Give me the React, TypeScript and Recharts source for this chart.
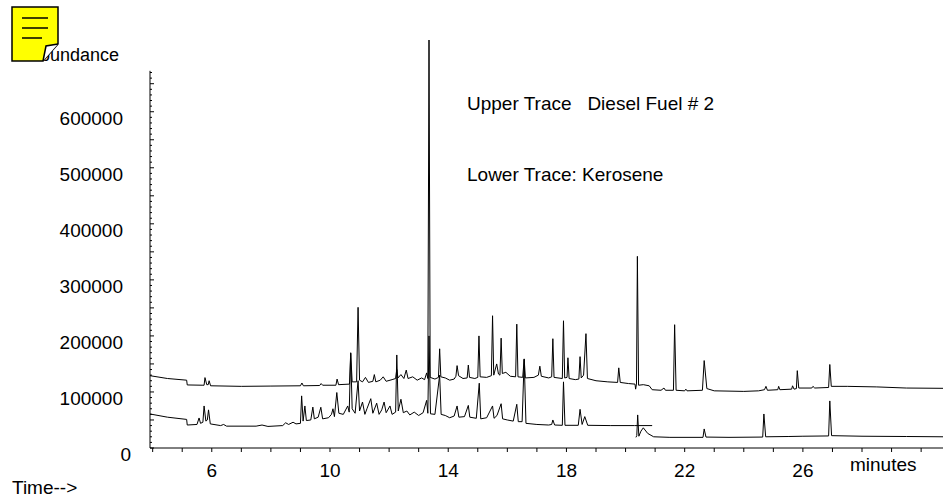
import { LineChart, Line, XAxis, YAxis, ReferenceLine } from 'recharts';

// retention time (min) / abundance pairs
const upperTrace: [number, number][] = [
  [3.91, 129000], [4.5, 124000], [5.15, 121000], [5.17, 112500], [5.7, 112000],
  [5.74, 112000], [5.77, 125600], [5.83, 113000], [5.88, 113000], [5.91, 120000], [5.96, 111000],
  [7.0, 110000], [8.0, 110500], [9.0, 111000], [9.05, 116000], [9.1, 111000],
  [9.65, 111500], [9.7, 115000], [9.75, 112000], [10.2, 112000], [10.24, 123000], [10.29, 113000],
  [10.66, 114000], [10.7, 170000], [10.75, 118000], [10.9, 118000], [10.95, 251000], [11.0, 121000],
  [11.1, 118000], [11.2, 126000], [11.3, 117000], [11.45, 119000], [11.5, 131000], [11.55, 118000],
  [11.7, 121000], [11.8, 127000], [11.9, 119000], [12.1, 122000], [12.22, 124000], [12.26, 140000],
  [12.3, 125000], [12.4, 131000], [12.5, 124000], [12.58, 139000], [12.64, 124000], [12.8, 127000],
  [12.95, 121000], [13.1, 125000], [13.2, 122000], [13.27, 134000], [13.31, 124000], [13.35, 728000],
  [13.39, 126000], [13.55, 123000], [13.67, 126000], [13.71, 177000], [13.75, 127000], [13.9, 125000],
  [14.05, 121000], [14.2, 123000], [14.26, 128000], [14.3, 147000], [14.35, 129000], [14.5, 124000],
  [14.64, 125000], [14.68, 148000], [14.72, 126000], [14.9, 124000], [15.0, 126000], [15.04, 200000],
  [15.08, 127000], [15.3, 126000], [15.46, 129000], [15.5, 236000], [15.54, 130000], [15.64, 150000],
  [15.7, 132000], [15.75, 130000], [15.79, 196000], [15.83, 133000], [15.95, 135000], [16.1, 128000],
  [16.28, 127000], [16.32, 221000], [16.36, 127000], [16.52, 126000], [16.57, 159000], [16.61, 125000],
  [16.9, 126000], [17.05, 130000], [17.1, 146000], [17.15, 128000], [17.4, 125000], [17.5, 127000],
  [17.54, 195000], [17.58, 126000], [17.86, 124000], [17.9, 227000], [17.94, 125000], [18.02, 126000],
  [18.05, 161000], [18.09, 124000], [18.3, 122000], [18.42, 123000], [18.46, 163000], [18.5, 125000],
  [18.58, 130000], [18.66, 204000], [18.71, 124000], [19.0, 120000], [19.4, 118000], [19.73, 117000],
  [19.77, 143000], [19.82, 117000], [20.1, 115000], [20.32, 114000], [20.34, 105000], [20.37, 114000],
  [20.4, 342000], [20.44, 112000], [20.6, 113000], [20.8, 111000], [20.9, 104000], [21.2, 103000],
  [21.3, 107000], [21.35, 103000], [21.62, 103000], [21.66, 220000], [21.71, 103000], [22.0, 102000],
  [22.04, 105000], [22.08, 102000], [22.6, 103000], [22.66, 156000], [22.75, 106000], [23.0, 102000],
  [24.0, 101000], [24.5, 102000], [24.7, 104000], [24.75, 110000], [24.8, 103000], [25.15, 104000],
  [25.18, 110000], [25.22, 104000], [25.62, 105000], [25.65, 111000], [25.7, 105000], [25.78, 106000],
  [25.81, 138000], [25.86, 107000], [26.3, 107000], [26.34, 110000], [26.4, 107000], [26.87, 108000],
  [26.91, 149000], [26.96, 110000], [27.5, 110000], [28.5, 109000], [29.5, 107000], [30.74, 106500],
];

const lowerTraceA: [number, number][] = [
  [3.91, 60700], [4.5, 55000], [5.15, 51000], [5.17, 41000], [5.5, 42000], [5.57, 53600],
  [5.62, 44000], [5.7, 46000], [5.74, 75000], [5.8, 48000], [5.85, 50000], [5.89, 68000],
  [5.95, 43000], [6.3, 40000], [6.4, 42000], [6.5, 39000], [7.5, 39000], [7.7, 41000],
  [7.9, 38500], [8.4, 40000], [8.5, 45000], [8.6, 42000], [8.75, 46000], [8.85, 43000],
  [9.0, 44000], [9.04, 93000], [9.09, 48000], [9.15, 75000], [9.2, 49000], [9.35, 50000],
  [9.42, 73000], [9.47, 52000], [9.6, 55000], [9.69, 72700], [9.75, 52000], [9.95, 54000],
  [10.05, 60000], [10.1, 70000], [10.15, 56000], [10.23, 99000], [10.3, 62000], [10.45, 60000],
  [10.6, 75000], [10.65, 64000], [10.7, 169000], [10.75, 70000], [10.85, 62000], [10.95, 120000],
  [11.0, 66000], [11.1, 82000], [11.18, 60000], [11.25, 70000], [11.38, 88000], [11.45, 62000],
  [11.58, 80000], [11.66, 60000], [11.75, 68000], [11.83, 82000], [11.9, 63000], [12.03, 75000],
  [12.1, 60000], [12.22, 64000], [12.26, 166000], [12.31, 66000], [12.4, 87000], [12.48, 63000],
  [12.6, 66000], [12.7, 59000], [12.85, 64000], [13.0, 58000], [13.15, 63000], [13.27, 85000],
  [13.31, 62000], [13.35, 200000], [13.4, 61000], [13.55, 60000], [13.71, 130000], [13.76, 60000],
  [13.9, 58000], [14.05, 54000], [14.2, 57000], [14.3, 75000], [14.36, 55000], [14.55, 56000],
  [14.68, 76000], [14.73, 55000], [14.95, 53000], [15.05, 115600], [15.1, 52000], [15.3, 54000],
  [15.5, 75000], [15.55, 53000], [15.65, 58000], [15.79, 79000], [15.84, 52000], [16.0, 50000],
  [16.2, 48000], [16.32, 78000], [16.37, 47000], [16.5, 47000], [16.57, 158000], [16.63, 44000],
  [17.0, 42000], [17.4, 41000], [17.5, 42000], [17.54, 50000], [17.6, 41000], [17.86, 40500],
  [17.9, 118000], [17.95, 40500], [18.4, 40500], [18.46, 69000], [18.53, 42000], [18.62, 56000],
  [18.72, 40500], [19.5, 40000], [20.3, 40000], [20.9, 40000],
];

const lowerTraceB: [number, number][] = [
  [20.35, 19000], [20.38, 22000], [20.41, 59000], [20.45, 21000], [20.52, 30000],
  [20.6, 36000], [20.75, 26000], [20.95, 20000], [21.5, 19000], [22.62, 19000], [22.66, 34000],
  [22.72, 19500], [23.5, 19000], [24.64, 19500], [24.68, 60700], [24.74, 20000], [25.5, 20500],
  [26.0, 21000], [26.87, 21500], [26.91, 84000], [26.97, 22000], [28.0, 21000], [29.5, 20500],
  [30.74, 20000],
];

const xTicks = [4, 5, 6, 7, 8, 9, 10, 11, 12, 13, 14, 15, 16, 17, 18, 19, 20, 21, 22, 23, 24, 25, 26, 27, 28, 29, 30];
const xLabels = [6, 10, 14, 18, 22, 26];
const yTicks = Array.from({ length: 68 }, (_, i) => i * 10000);

const toRows = (pts: [number, number][]) => pts.map(([t, v]) => ({ t, v }));

const FONT = '"Liberation Sans", Arial, sans-serif';

function XTick({ x, y, payload }: any) {
  const show = xLabels.includes(payload.value);
  return (
    <g>
      <line x1={x} x2={x} y1={y} y2={y + 4} stroke="#000" />
      {show && (
        <text x={x} y={y + 29} textAnchor="middle" fontSize={19} fontFamily={FONT} fill="#000">
          {payload.value}
        </text>
      )}
    </g>
  );
}

function YTick({ x, y, payload }: any) {
  const v = payload.value;
  const label = v % 100000 === 0 && v <= 600000;
  const len = v % 50000 === 0 ? 4 : 2;
  return (
    <g>
      <line x1={x} x2={x + len} y1={y} y2={y} stroke="#000" />
      {label && (
        <text x={v === 0 ? x - 19 : x - 27} y={y + 13} textAnchor="end" fontSize={19} fontFamily={FONT} fill="#000">
          {v}
        </text>
      )}
    </g>
  );
}

export default function App() {
  return (
    <div style={{ position: 'absolute', left: 0, top: 0, width: 945, height: 497, background: '#fff', fontFamily: FONT }}>
      <LineChart width={945} height={497} margin={{ top: 40, right: 2, left: 0, bottom: 19 }}>
        <XAxis
          dataKey="t"
          type="number"
          domain={[3.91, 30.74]}
          ticks={xTicks}
          tick={<XTick />}
          tickLine={false}
          tickSize={0}
          tickMargin={0}
          height={30}
          axisLine={{ stroke: '#000' }}
          allowDuplicatedCategory={false}
        />
        <YAxis
          type="number"
          domain={[0, 728000]}
          ticks={yTicks}
          tick={<YTick />}
          tickLine={false}
          tickSize={0}
          tickMargin={0}
          width={150}
          axisLine={false}
          interval={0}
          allowDataOverflow
        />
        <ReferenceLine
          segment={[{ x: 3.91, y: 0 }, { x: 3.91, y: 673000 }]}
          stroke="#000"
        />
        <Line data={toRows(upperTrace)} dataKey="v" type="linear" stroke="#000" strokeWidth={1} dot={false} isAnimationActive={false} />
        <Line data={toRows(lowerTraceA)} dataKey="v" type="linear" stroke="#000" strokeWidth={1} dot={false} isAnimationActive={false} />
        <Line data={toRows(lowerTraceB)} dataKey="v" type="linear" stroke="#000" strokeWidth={1} dot={false} isAnimationActive={false} />
      </LineChart>
      <svg width={945} height={497} style={{ position: 'absolute', left: 0, top: 0, pointerEvents: 'none' }}>
        <text x={28} y={61} fontSize={18} fill="#000" fontFamily={FONT}>Abundance</text>
        <path d="M12,7 H58 V44 L43,61 H12 Z" fill="#ffff00" stroke="#000" strokeWidth={1.5} />
        <path d="M43,61 L46,46 L58,44" fill="#fff" stroke="#000" strokeWidth={1.5} />
        <line x1={22} x2={48} y1={18} y2={18} stroke="#000" strokeWidth={1.5} />
        <line x1={22} x2={48} y1={28} y2={28} stroke="#000" strokeWidth={1.5} />
        <line x1={22} x2={42} y1={38} y2={38} stroke="#000" strokeWidth={1.5} />
        <text x={467} y={110} fontSize={19} fill="#000" fontFamily={FONT} xmlSpace="preserve" style={{ whiteSpace: 'pre' }}>Upper Trace   Diesel Fuel # 2</text>
        <text x={467} y={181} fontSize={19} fill="#000" fontFamily={FONT}>Lower Trace: Kerosene</text>
        <text x={850} y={471} fontSize={19} fill="#000" fontFamily={FONT}>minutes</text>
        <text x={12} y={494} fontSize={19} fill="#000" fontFamily={FONT}>Time--&gt;</text>
      </svg>
    </div>
  );
}
